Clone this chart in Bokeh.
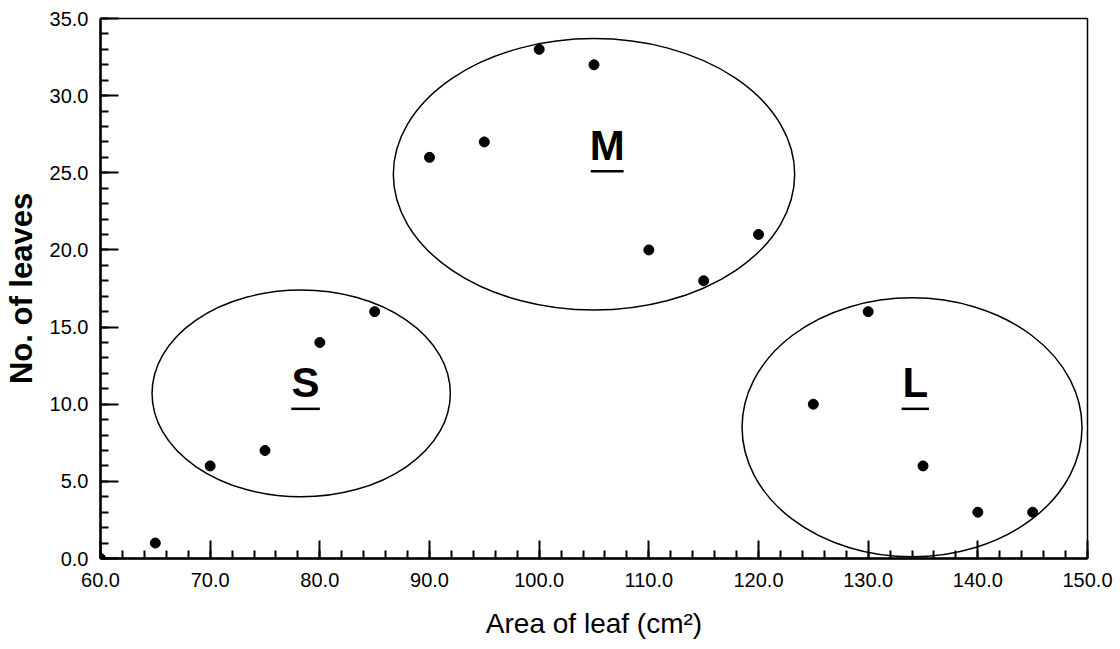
from bokeh.plotting import figure
from bokeh.models import PrintfTickFormatter, FixedTicker
from bokeh.core.properties import value
from bokeh.embed import file_html
from bokeh.resources import INLINE

# data
area = [60, 65, 70, 75, 80, 85, 90, 95, 100, 105, 110, 115, 120, 125, 130, 135, 140, 145]
leaves = [0, 1, 6, 7, 14, 16, 26, 27, 33, 32, 20, 18, 21, 10, 16, 6, 3, 3]

groups = ["S", "M", "L"]
group_cx = [78.3, 105.0, 134.0]
group_cy = [10.7, 24.9, 8.5]
group_w = [27.2, 36.6, 31.0]
group_h = [13.4, 17.6, 16.8]
label_x = [78.7, 106.2, 134.3]
label_y = [11.4, 26.8, 11.4]
underline_w = [2.6, 3.0, 2.5]

FONT = "Liberation Sans"

p = figure(width=1120, height=649, frame_width=987, frame_height=540,
           x_range=(60, 150), y_range=(0, 35),
           output_backend="svg", toolbar_location=None,
           min_border_left=100, min_border_top=18, min_border_right=33, min_border_bottom=91)

p.grid.visible = False
p.background_fill_color = "white"
p.border_fill_color = "white"
p.outline_line_color = "black"
p.outline_line_width = 1.5

p.xaxis.ticker = FixedTicker(ticks=list(range(60, 151, 10)), minor_ticks=list(range(60, 151, 2)))
p.yaxis.ticker = FixedTicker(ticks=list(range(0, 36, 5)), minor_ticks=list(range(0, 36, 1)))

for ax in (p.xaxis[0], p.yaxis[0]):
    ax.formatter = PrintfTickFormatter(format="%.1f")
    ax.axis_line_width = 2.5
    ax.axis_line_color = "black"
    ax.major_tick_in = 18
    ax.major_tick_out = 0
    ax.minor_tick_in = 8
    ax.minor_tick_out = 0
    ax.major_tick_line_width = 2
    ax.minor_tick_line_width = 2
    ax.major_label_text_font = FONT
    ax.major_label_text_font_size = "20px"
    ax.major_label_text_color = "black"
    ax.axis_label_text_font = FONT
    ax.axis_label_text_color = "black"

p.xaxis.major_label_standoff = 14
p.yaxis.major_label_standoff = 12
p.xaxis.axis_label = "Area of leaf (cm²)"
p.xaxis.axis_label_text_font_style = "normal"
p.xaxis.axis_label_text_font_size = "28px"
p.xaxis.axis_label_standoff = 18
p.yaxis.axis_label = "No. of leaves"
p.yaxis.axis_label_text_font_style = "bold"
p.yaxis.axis_label_text_font_size = "31px"
p.yaxis.axis_label_standoff = 8

p.ellipse(x=group_cx, y=group_cy, width=group_w, height=group_h,
          fill_color=None, line_color="black", line_width=1.5)

p.scatter(area, leaves, size=10, color="black")

p.text(x=label_x, y=label_y, text=groups, text_align="center", text_baseline="middle",
       text_font=value(FONT), text_font_style="bold", text_font_size="42px", text_color="black")

ul_y = [ly - 1.7 for ly in label_y]
p.segment(x0=[lx - w / 2 for lx, w in zip(label_x, underline_w)], y0=ul_y,
          x1=[lx + w / 2 for lx, w in zip(label_x, underline_w)], y1=ul_y,
          line_color="black", line_width=2.5)

open("out.html", "w").write(file_html(p, INLINE))
